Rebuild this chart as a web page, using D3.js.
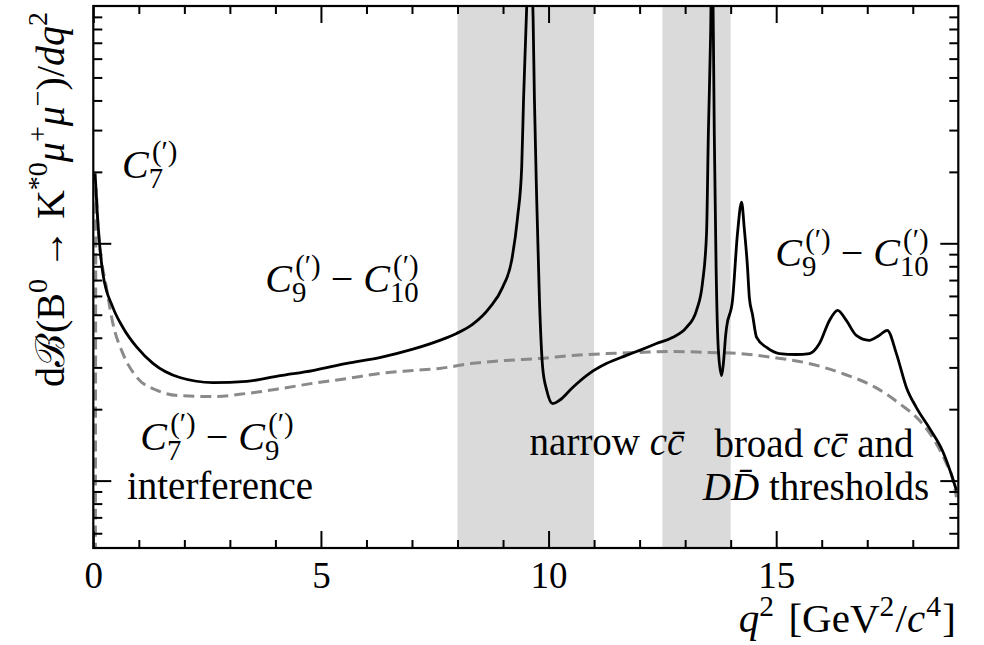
<!DOCTYPE html>
<html><head><meta charset="utf-8">
<script src="https://cdn.jsdelivr.net/npm/d3@7"></script>
<style>
html,body{margin:0;padding:0;background:#fff;}
svg{display:block;}
text{font-family:"Liberation Serif","Times New Roman",serif;fill:#000;}
</style></head>
<body>
<svg id="chart" width="984" height="645"></svg>
<script>
// ---- data (q^2 in GeV^2/c^4, differential branching fraction in arbitrary units, log scale) ----
const q2Full = [0.04,0.08,0.21,0.43,0.65,0.96,1.31,1.90,2.63,3.37,4.10,4.82,5.57,6.29,7.02,7.61,7.98,8.33,8.71,8.99,9.19,9.32,9.41,9.45,9.50,9.55,9.59,9.63,9.66,9.69,9.74,9.80,9.87,9.96,10.09,10.24,10.53,10.90,11.28,11.71,12.00,12.37,12.72,13.03,13.25,13.38,13.47,13.51,13.56,13.59,13.62,13.64,13.68,13.73,13.80,13.84,13.89,13.91,14.04,14.15,14.24,14.30,14.37,14.41,14.48,14.57,14.79,15.07,15.44,15.73,15.95,16.17,16.35,16.54,16.76,17.04,17.26,17.44,17.64,17.86,18.08,18.36,18.65,18.87,18.96];
const bFull  = [19.7,14.2,7.47,5.37,4.42,3.64,3.12,2.72,2.59,2.62,2.77,2.91,3.12,3.30,3.58,3.90,4.17,4.55,5.37,6.52,8.48,12.9,20.9,40.1,76.9,150,300,150,90,40.1,15.2,5.75,3.00,2.40,2.11,2.18,2.47,2.83,3.12,3.37,3.54,3.78,4.01,4.42,5.22,6.78,11.0,29.1,76.9,200,76.9,29.1,7.92,3.54,2.77,3.12,4.09,4.42,5.75,11.0,14.9,11.5,7.92,5.92,5.0,4.01,3.64,3.43,3.40,3.43,3.78,4.73,5.22,4.73,4.09,3.90,4.09,4.30,3.43,2.47,2.03,1.67,1.34,1.03,0.907];

const q2Short = [0.045,0.05,0.055,0.06,0.10,0.30,0.43,0.65,0.96,1.40,1.90,2.63,3.37,4.10,4.82,5.57,6.29,7.02,7.61,8.33,9.08,9.80,10.53,11.28,12.00,12.72,13.47,14.20,14.95,15.71,16.45,17.18,17.71,18.15,18.52,18.74,18.87,18.96];
const bShort  = [0.3,3.0,10.0,17.0,12.0,6.33,4.60,3.43,2.72,2.40,2.28,2.26,2.33,2.44,2.57,2.69,2.83,2.91,2.97,3.12,3.21,3.27,3.37,3.43,3.47,3.50,3.47,3.43,3.30,3.12,2.83,2.47,2.11,1.79,1.43,1.18,1.03,0.85];

const bands = [[8.0, 11.0], [12.5, 14.0]];

const xMajorTicks = [0, 5, 10, 15];
const xTickLabels = ["0", "5", "10", "15"];
const xMinorTicks = [1,2,3,4,6,7,8,9,11,12,13,14,16,17,18];
const yMajorTicks = [1, 10];
const yMinorTicks = [0.6,0.7,0.8,0.9,2,3,4,5,6,7,8,9,20,30,40,50,60,70,80,90];

// ---- layout ----
const L = 93.3, R = 958.3, T = 6, B = 548;
const FS = 39, MS = 40;
const svg = d3.select("#chart");

const x = d3.scaleLinear().domain([0, 19]).range([L, R]);
const y = d3.scaleLog().domain([0.52, 100]).range([B, T]);

// bands
svg.append("g").selectAll("rect").data(bands).join("rect")
  .attr("x", d => x(d[0])).attr("width", d => x(d[1]) - x(d[0]))
  .attr("y", T).attr("height", B - T)
  .attr("fill", "#dadada");

// clip
svg.append("clipPath").attr("id", "clip").append("rect")
  .attr("x", L).attr("y", T).attr("width", R - L).attr("height", B - T);

const line = d3.line().x(d => x(d[0])).y(d => y(d[1])).curve(d3.curveMonotoneX);

const plot = svg.append("g").attr("clip-path", "url(#clip)");
plot.append("path").datum(d3.zip(q2Short, bShort))
  .attr("d", line).attr("fill", "none").attr("stroke", "#8a8a8a")
  .attr("stroke-width", 3).attr("stroke-dasharray", "11,6");
plot.append("path").datum(d3.zip(q2Full, bFull))
  .attr("d", line).attr("fill", "none").attr("stroke", "#000")
  .attr("stroke-width", 2.8).attr("stroke-linejoin", "round");

// axes
function styleAxis(g) {
  g.select(".domain").remove();
  g.selectAll(".tick line").attr("stroke", "#000").attr("stroke-width", 2);
}
svg.append("g").attr("transform", `translate(0,${B})`)
  .call(d3.axisBottom(x).tickValues(xMajorTicks).tickSizeInner(-17).tickSizeOuter(0).tickPadding(14)
    .tickFormat((d, i) => xTickLabels[i]))
  .call(styleAxis)
  .call(g => g.selectAll("text").style("font-family", '"Liberation Serif",serif').style("font-size", "37px").attr("fill", "#000"));
svg.append("g").attr("transform", `translate(0,${B})`)
  .call(d3.axisBottom(x).tickValues(xMinorTicks).tickSizeInner(-8).tickSizeOuter(0).tickFormat(""))
  .call(styleAxis);
svg.append("g").attr("transform", `translate(0,${T})`)
  .call(d3.axisTop(x).tickValues(xMajorTicks).tickSizeInner(-17).tickSizeOuter(0).tickFormat(""))
  .call(styleAxis);
svg.append("g").attr("transform", `translate(0,${T})`)
  .call(d3.axisTop(x).tickValues(xMinorTicks).tickSizeInner(-8).tickSizeOuter(0).tickFormat(""))
  .call(styleAxis);
svg.append("g").attr("transform", `translate(${L},0)`)
  .call(d3.axisLeft(y).tickValues(yMajorTicks).tickSizeInner(-18).tickSizeOuter(0).tickFormat(""))
  .call(styleAxis);
svg.append("g").attr("transform", `translate(${L},0)`)
  .call(d3.axisLeft(y).tickValues(yMinorTicks).tickSizeInner(-9).tickSizeOuter(0).tickFormat(""))
  .call(styleAxis);
svg.append("g").attr("transform", `translate(${R},0)`)
  .call(d3.axisRight(y).tickValues(yMajorTicks).tickSizeInner(-18).tickSizeOuter(0).tickFormat(""))
  .call(styleAxis);
svg.append("g").attr("transform", `translate(${R},0)`)
  .call(d3.axisRight(y).tickValues(yMinorTicks).tickSizeInner(-9).tickSizeOuter(0).tickFormat(""))
  .call(styleAxis);

// frame
svg.append("rect").attr("x", L).attr("y", T).attr("width", R - L).attr("height", B - T)
  .attr("fill", "none").attr("stroke", "#000").attr("stroke-width", 2.2);

// ---- math-ish text helper ----
function mathText(parent, px, py, parts, size, anchor, rotate, scr, supY) {
  const ss = scr || 0.72;
  const sy = supY || 0.42;
  const outer = parent.append("g").attr("transform", `translate(${px},${py})` + (rotate ? ` rotate(${rotate})` : ""));
  const g = outer.append("g");
  let cx = 0;
  const mk = (txt, xx, yy, fs, it) => {
    const el = g.append("text").attr("x", xx).attr("y", yy)
      .style("font-size", fs + "px").style("font-style", it ? "italic" : "normal").text(txt);
    return el.node().getComputedTextLength();
  };
  parts.forEach(p => {
    if (p.gap !== undefined) { cx += p.gap * size; return; }
    if (p.t !== undefined) { cx += mk(p.t, cx, 0, size, p.it); return; }
    let w = 0;
    const sdx = (p.sdx || 0) * size;
    if (p.sup !== undefined) w = Math.max(w, mk(p.sup, cx + sdx, -size * sy, size * ss, false) + sdx);
    if (p.sub !== undefined) w = Math.max(w, mk(p.sub, cx, size * 0.26, size * ss, false));
    cx += w + (p.after || 0) * size;
  });
  const shift = anchor === "middle" ? -cx / 2 : anchor === "end" ? -cx : 0;
  g.attr("transform", `translate(${shift},0)`);
  return outer;
}

const P = "(\u2032)";
// annotations
mathText(svg, 122, 178, [{t: "C", it: true}, {sup: P, sub: "7", sdx: 0.08}], MS, "start");
mathText(svg, 342, 292, [{t: "C", it: true}, {sup: P, sub: "9", sdx: 0.08}, {gap: 0.25}, {t: "\u2212"}, {gap: 0.25},
  {t: "C", it: true}, {sup: P, sub: "10", sdx: 0.08}], MS, "middle");
mathText(svg, 852, 266, [{t: "C", it: true}, {sup: P, sub: "9", sdx: 0.08}, {gap: 0.25}, {t: "\u2212"}, {gap: 0.25},
  {t: "C", it: true}, {sup: P, sub: "10", sdx: 0.08}], MS, "middle");
mathText(svg, 217, 450, [{t: "C", it: true}, {sup: P, sub: "7", sdx: 0.08}, {gap: 0.25}, {t: "\u2212"}, {gap: 0.25},
  {t: "C", it: true}, {sup: P, sub: "9", sdx: 0.08}], MS, "middle");
mathText(svg, 220, 499, [{t: "interference"}], FS, "middle");
mathText(svg, 607, 455, [{t: "narrow"}, {gap: 0.25}, {t: "c", it: true}, {t: "c\u0304", it: true}], FS, "middle");
mathText(svg, 814, 457, [{t: "broad"}, {gap: 0.25}, {t: "c", it: true}, {t: "c\u0304", it: true}, {gap: 0.25}, {t: "and"}], FS, "middle");
mathText(svg, 816, 500, [{t: "D", it: true}, {t: "D\u0304", it: true}, {gap: 0.25}, {t: "thresholds"}], FS, "middle");

// axis titles
mathText(svg, 956, 632, [{t: "q", it: true}, {sup: "2", after: 0.05}, {gap: 0.3}, {t: "[GeV"}, {sup: "2", after: 0.03}, {t: "/"}, {t: "c", it: true}, {sup: "4", sdx: 0.03, after: 0.03}, {t: "]"}], 41, "end", 0, 0.72, 0.38);
mathText(svg, 64, 12, [{t: "d"}, {t: "\u212C"}, {t: "(B"}, {sup: "0"}, {gap: 0.25}, {t: "\u2192"}, {gap: 0.25}, {t: "K"}, {sup: "*0"},
  {t: "\u03BC", it: true}, {sup: "+"}, {t: "\u03BC", it: true}, {sup: "\u2212"}, {t: ")/"}, {t: "dq", it: true}, {sup: "2"}], 40, "end", -90, 0.7);
</script>
</body></html>
